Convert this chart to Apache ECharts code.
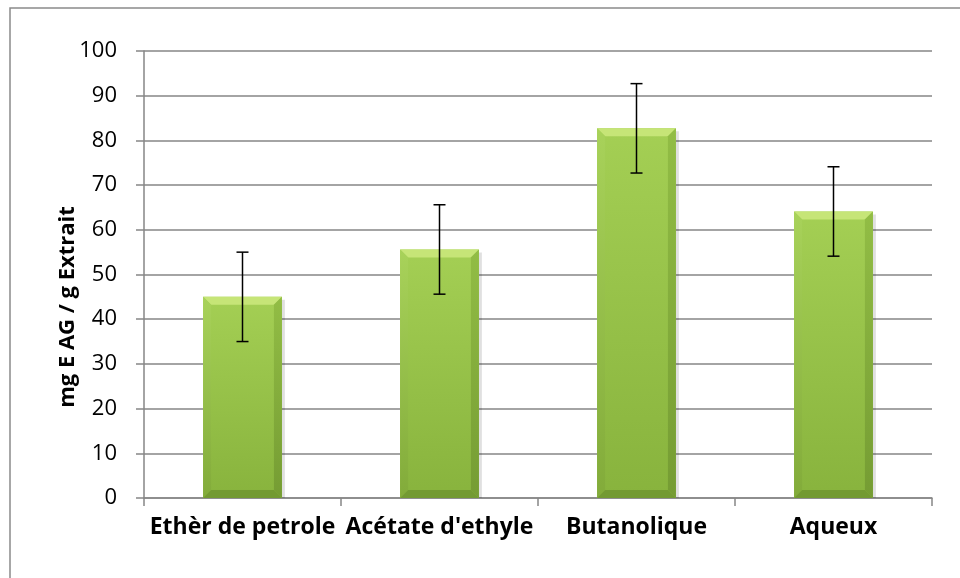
<!DOCTYPE html>
<html>
<head>
<meta charset="utf-8">
<script src="https://cdn.jsdelivr.net/npm/echarts@6/dist/echarts.min.js"></script>
<style>
  html, body { margin: 0; padding: 0; background: #fff; }
  #chart { width: 960px; height: 578px; }
</style>
</head>
<body>
<div id="chart"></div>
<script>
// categories and values
var categories = ["Ethèr de petrole", "Acétate d'ethyle", "Butanolique", "Aqueux"];
var means = [45, 55.6, 82.7, 64.1];
var errors = [10, 10, 10, 10];
var yTicks = [0, 10, 20, 30, 40, 50, 60, 70, 80, 90, 100];
var yName = 'mg E AG / g Extrait';

var chart = echarts.init(document.getElementById('chart'));

// bar with bevel look
function renderBar(params, api) {
    var i = api.value(0);
    var top = api.coord([i, api.value(1)]);
    var base = api.coord([i, 0]);
    var w = api.size([1, 0])[0] * 0.4;
    var x0 = top[0] - w / 2, x1 = top[0] + w / 2;
    var y0 = top[1], y1 = base[1];
    var b = 8;
    return {
        type: 'group',
        children: [
            { type: 'rect', shape: { x: x0 + 3, y: y0 + 3, width: w, height: y1 - y0 - 3 },
              style: { fill: 'rgba(0,0,0,0.12)' } },
            { type: 'rect', shape: { x: x0, y: y0, width: w, height: y1 - y0 },
              style: { fill: new echarts.graphic.LinearGradient(0, 0, 0, 1, [
                  { offset: 0, color: '#a4cf54' }, { offset: 1, color: '#88b33d' }]) } },
            { type: 'polygon', shape: { points: [[x0, y0], [x1, y0], [x1 - b, y0 + b], [x0 + b, y0 + b]] },
              style: { fill: '#c6e577' } },
            { type: 'polygon', shape: { points: [[x0, y0], [x0 + b, y0 + b], [x0 + b, y1 - b], [x0, y1]] },
              style: { fill: new echarts.graphic.LinearGradient(0, 0, 0, 1, [
                  { offset: 0, color: '#a8d25a' }, { offset: 1, color: '#82ab3a' }]) } },
            { type: 'polygon', shape: { points: [[x1, y0], [x1 - b, y0 + b], [x1 - b, y1 - b], [x1, y1]] },
              style: { fill: new echarts.graphic.LinearGradient(0, 0, 0, 1, [
                  { offset: 0, color: '#92bd45' }, { offset: 1, color: '#759c33' }]) } },
            { type: 'polygon', shape: { points: [[x0, y1], [x0 + b, y1 - b], [x1 - b, y1 - b], [x1, y1]] },
              style: { fill: '#739a32' } }
        ]
    };
}

function renderError(params, api) {
    var i = api.value(0);
    var hi = api.coord([i, api.value(1)]);
    var lo = api.coord([i, api.value(2)]);
    var c = 6;
    var st = { stroke: '#000', lineWidth: 1.5 };
    return {
        type: 'group',
        children: [
            { type: 'line', shape: { x1: hi[0], y1: hi[1], x2: lo[0], y2: lo[1] }, style: st },
            { type: 'line', shape: { x1: hi[0] - c, y1: hi[1], x2: hi[0] + c, y2: hi[1] }, style: st },
            { type: 'line', shape: { x1: lo[0] - c, y1: lo[1], x2: lo[0] + c, y2: lo[1] }, style: st }
        ]
    };
}

var barData = means.map(function (v, i) { return [i, v]; });
var errData = means.map(function (v, i) { return [i, v + errors[i], v - errors[i]]; });

var option = {
    animation: false,
    backgroundColor: '#fff',
    graphic: [{
        type: 'rect', shape: { x: 10, y: 8, width: 960, height: 600 },
        style: { fill: 'none', stroke: '#8a8a8a', lineWidth: 1.5 }, z: -1
    }, {
        // axis title, placed like the original (a bit below the plot middle)
        type: 'text', x: 68, y: 307, rotation: Math.PI / 2,
        style: { text: yName, fill: '#000', font: 'bold 22px "Open Sans"',
                 align: 'center', verticalAlign: 'middle' }
    }],
    grid: { left: 144, right: 28, top: 51, bottom: 80 },
    xAxis: {
        type: 'category',
        data: categories,
        axisLine: { lineStyle: { color: '#868686', width: 1.5 } },
        axisTick: { show: true, length: 8, lineStyle: { color: '#868686', width: 1.5 } },
        axisLabel: { color: '#000', fontFamily: 'Open Sans', fontWeight: 'bold', fontSize: 23,
                     margin: 18, interval: 0 }
    },
    yAxis: {
        type: 'value',
        min: yTicks[0], max: yTicks[yTicks.length - 1], interval: 10,
        axisLine: { show: true, lineStyle: { color: '#868686', width: 1.5 } },
        axisTick: { show: true, length: 8, lineStyle: { color: '#868686', width: 1.5 } },
        splitLine: { lineStyle: { color: '#868686', width: 1.5 } },
        axisLabel: { color: '#000', fontFamily: 'Open Sans', fontSize: 22, margin: 27 }
    },
    series: [
        { type: 'custom', renderItem: renderBar, data: barData, encode: { x: 0, y: 1 }, z: 2 },
        { type: 'custom', renderItem: renderError, data: errData, encode: { x: 0, y: [1, 2] }, z: 3 }
    ]
};

chart.setOption(option);
</script>
</body>
</html>
